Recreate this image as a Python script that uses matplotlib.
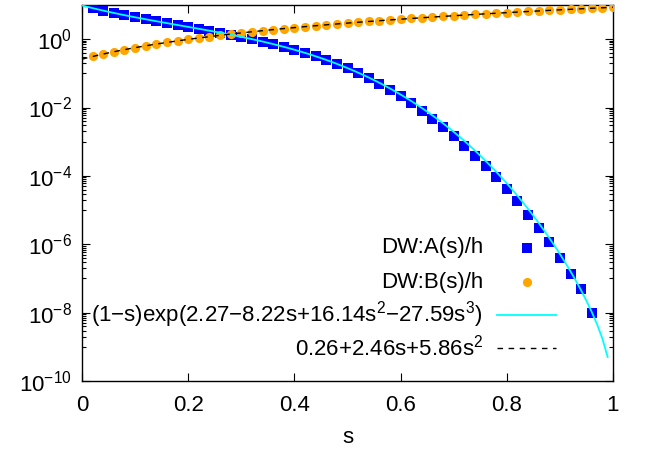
import numpy as np
import matplotlib
matplotlib.use("Agg")
import matplotlib.pyplot as plt
from matplotlib.lines import Line2D
from matplotlib.ticker import FixedLocator, FuncFormatter

plt.rcParams['font.family'] = ['Liberation Sans', 'DejaVu Sans']
plt.rcParams['mathtext.fontset'] = 'custom'
plt.rcParams['mathtext.rm'] = 'Liberation Sans'
plt.rcParams['mathtext.it'] = 'Liberation Sans:italic'
plt.rcParams['mathtext.bf'] = 'Liberation Sans:bold'

# ---- data ----
s_A = [0.02, 0.04, 0.06, 0.08, 0.10, 0.12, 0.14, 0.16, 0.18, 0.20,
       0.22, 0.24, 0.26, 0.28, 0.30, 0.32, 0.34, 0.36, 0.38, 0.40,
       0.42, 0.44, 0.46, 0.48, 0.50, 0.52, 0.54, 0.56, 0.58, 0.60,
       0.62, 0.64, 0.66, 0.68, 0.70, 0.72, 0.74, 0.76, 0.78, 0.80,
       0.82, 0.84, 0.86, 0.88, 0.90, 0.92, 0.94, 0.96]
A_vals = [8.1, 6.85, 5.85, 5.04, 4.38, 3.82, 3.35, 2.95, 2.6, 2.29,
          2.01, 1.77, 1.55, 1.35, 1.17, 1.0, 0.853, 0.718, 0.598, 0.491,
          0.387, 0.316, 0.241, 0.185, 0.141, 0.101, 0.072, 0.049, 0.0327, 0.0214,
          0.0134, 0.0078, 0.00455, 0.00265, 0.00145, 7.4e-4, 3.77e-4, 1.92e-4, 9.2e-5, 4.1e-5,
          1.85e-5, 7.2e-6, 2.95e-6, 1.17e-6, 3.9e-7, 1.35e-7, 4.9e-8, 9.8e-9]

s_B = [0.02, 0.04, 0.06, 0.08, 0.10, 0.12, 0.14, 0.16, 0.18, 0.20,
       0.22, 0.24, 0.26, 0.28, 0.30, 0.32, 0.34, 0.36, 0.38, 0.40,
       0.42, 0.44, 0.46, 0.48, 0.50, 0.52, 0.54, 0.56, 0.58, 0.60,
       0.62, 0.64, 0.66, 0.68, 0.70, 0.72, 0.74, 0.76, 0.78, 0.80,
       0.82, 0.84, 0.86, 0.88, 0.90, 0.92, 0.94, 0.96, 0.98, 1.00]
B_vals = [0.312, 0.368, 0.429, 0.494, 0.565, 0.64, 0.719, 0.804, 0.893, 0.986,
          1.08, 1.19, 1.30, 1.41, 1.53, 1.65, 1.77, 1.91, 2.04, 2.18,
          2.33, 2.48, 2.63, 2.79, 2.96, 3.12, 3.30, 3.48, 3.66, 3.85,
          4.04, 4.23, 4.44, 4.64, 4.85, 5.07, 5.29, 5.51, 5.74, 5.98,
          6.22, 6.46, 6.71, 6.96, 7.22, 7.48, 7.75, 8.02, 8.30, 8.58]

# fit coefficients (as printed in the legend)
fitA_coef = [2.27, -8.22, 16.14, -27.59]
fitB_coef = [0.26, 2.46, 5.86]

labels = ["DW:A(s)/h", "DW:B(s)/h",
          "(1\u2212s)exp(2.27\u22128.22s+16.14s$^{2}$\u221227.59s$^{3}$)",
          "0.26+2.46s+5.86s$^{2}$"]
x_ticks = [0, 0.2, 0.4, 0.6, 0.8, 1]
y_major = [1e-10, 1e-8, 1e-6, 1e-4, 1e-2, 1e0]

# ---- figure ----
W, H = 646, 451
fig = plt.figure(figsize=(W / 100, H / 100), dpi=100)
L, R, T, B = 82, 613, 5, 381
ax = fig.add_axes([L / W, 1 - B / H, (R - L) / W, (B - T) / H])
ax.set_yscale('log', nonpositive='mask')

blue = '#0000ff'
orange = '#ffa500'
cyan = '#00ffff'
ms_sq = 6.5
ms_ci = 6.6

ax.plot(s_A, A_vals, 's', color=blue, ms=ms_sq, mew=0, zorder=3)
ax.plot(s_B, B_vals, 'o', color=orange, ms=ms_ci, mew=0, zorder=3)

xs = np.linspace(0, 1, 100)
fitA = (1 - xs) * np.exp(fitA_coef[0] + fitA_coef[1] * xs + fitA_coef[2] * xs**2 + fitA_coef[3] * xs**3)
fitA = np.where(fitA > 0, fitA, np.nan)
fitB = fitB_coef[0] + fitB_coef[1] * xs + fitB_coef[2] * xs**2
ax.plot(xs, fitA, '-', color=cyan, lw=1.3, zorder=4)
ax.plot(xs, fitB, color='black', lw=1.0, dashes=(4, 4), zorder=4)

ax.set_xlim(0, 1)
ax.set_ylim(1e-10, 1e1)

fs = 16
ax.set_xticks(x_ticks)
ax.xaxis.set_major_formatter(FuncFormatter(lambda v, p: f"{v:g}"))
ax.yaxis.set_major_locator(FixedLocator(y_major))
ax.yaxis.set_major_formatter(FuncFormatter(
    lambda v, p: "$10^{%d}$" % int(round(np.log10(v))) if np.log10(v) >= 0
    else "$10^{\u2212%d}$" % int(round(-np.log10(v)))))
minor = []
for e in range(-9, 2, 2):
    for n in range(1, 10):
        v = n * 10.0**e
        if 1e-10 < v < 1e1:
            minor.append(v)
ax.yaxis.set_minor_locator(FixedLocator(minor))
ax.yaxis.set_minor_formatter(FuncFormatter(lambda v, p: ""))
ax.xaxis.set_minor_locator(FixedLocator([]))

ax.tick_params(which='both', direction='in', top=True, right=True, labelsize=fs, width=0.8)
ax.tick_params(which='major', length=6, pad=7)
ax.tick_params(which='minor', length=3)
ax.tick_params(axis='x', pad=10)
for sp in ax.spines.values():
    sp.set_linewidth(1.0)

ax.set_xlabel("s", fontsize=fs, labelpad=8)

# key (gnuplot style: right-aligned text, sample on the right)
ty = [0.354, 0.263, 0.176, 0.088]
tx = 0.755
for yy, lab in zip(ty, labels):
    ax.text(tx, yy, lab, transform=ax.transAxes, ha='right', va='center', fontsize=fs)
ax.add_line(Line2D([0.838], [ty[0]], transform=ax.transAxes, marker='s', color=blue, ms=ms_sq, mew=0, ls='none'))
ax.add_line(Line2D([0.838], [ty[1]], transform=ax.transAxes, marker='o', color=orange, ms=ms_ci, mew=0, ls='none'))
ax.add_line(Line2D([0.782, 0.893], [ty[2], ty[2]], transform=ax.transAxes, color=cyan, lw=1.3))
ax.add_line(Line2D([0.782, 0.893], [ty[3], ty[3]], transform=ax.transAxes, color='black', lw=1.0, dashes=(4, 4)))

fig.savefig("out.png", dpi=100)
